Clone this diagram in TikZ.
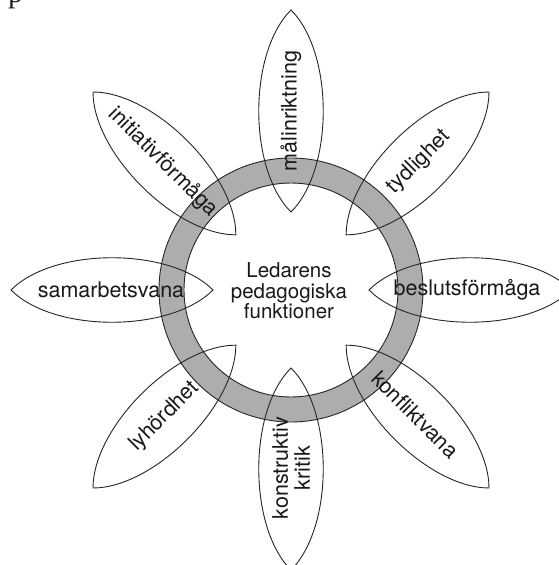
\documentclass[tikz,border=0pt]{standalone}
\usepackage{fontspec}
\setmainfont{TeX Gyre Heros}
\newfontfamily\fragfont{Liberation Serif}
\begin{document}
\begin{tikzpicture}[x=1pt,y=1pt,
  petalline/.style={draw=black!85, line width=0.9pt},
  ringstyle/.style={fill=black!32, draw=black!85, line width=0.9pt, even odd rule},
  lbl/.style={font=\fontsize{21.5}{22}\selectfont, text=black!90, inner sep=0pt, align=center},
  centrelbl/.style={font=\fontsize{20.5}{20.5}\selectfont, text=black!90, inner sep=0pt, align=center}
]
\useasboundingbox (-291,-275) rectangle (268,290);
\clip (-291,-275) rectangle (268,290);
% petal interiors (white)
\foreach \a in {0,45,...,315}{
  \fill[white, rotate=\a] (78,0) .. controls (121,43) and (237,43) .. (280,0)
        .. controls (237,-43) and (121,-43) .. (78,0) -- cycle;
}
% ring
\path[ringstyle] (0,0) circle (132) (0,0) circle (107);
% petal outlines
\foreach \a in {0,45,...,315}{
  \draw[petalline, rotate=\a] (78,0) .. controls (121,43) and (237,43) .. (280,0)
        .. controls (237,-43) and (121,-43) .. (78,0) -- cycle;
}
% labels
\node[centrelbl] (centre) at (-2,-1) {Ledarens\\pedagogiska\\funktioner};
\node[lbl, rotate=90]  (malin)    at (90:179)  {målinriktning};
\node[lbl, rotate=45]  (tydlig)   at (45:181)  {tydlighet};
\node[lbl]             (beslut)   at (0:176)   {beslutsförmåga};
\node[lbl, rotate=-45] (konflikt) at (-45:176) {konfliktvana};
\node[lbl, rotate=90]  (konstr)   at (-90:178) {konstruktiv\\kritik};
\node[lbl, rotate=45]  (lyhord)   at (225:179) {lyhördhet};
\node[lbl]             (samarb)   at (180:180) {samarbetsvana};
\node[lbl, rotate=-45] (initiat)  at (135:181) {initiativförmåga};
\node[font=\fragfont\fontsize{30}{30}\selectfont, anchor=base west, inner sep=0pt, text=black!88] (frag) at (-283,287) {p};
\end{tikzpicture}
\end{document}
